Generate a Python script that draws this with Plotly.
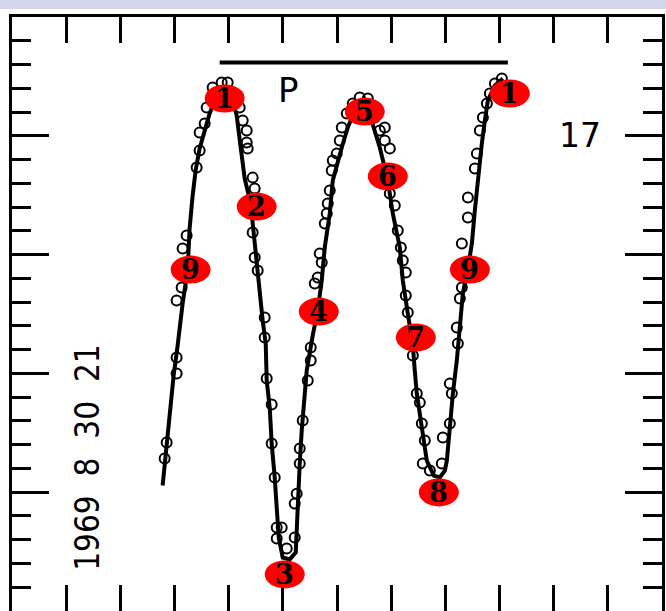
import plotly.graph_objects as go

# ---- data (time in minutes, magnitude) ----
curve_t = [27.81, 28.55, 29.28, 29.84, 30.58, 31.50, 32.42, 32.79, 33.35, 33.90, 34.64, 35.57,
           36.49, 37.78, 39.45, 40.74, 41.48, 42.22, 42.96, 44.06, 44.80, 45.36, 46.28, 46.84,
           47.02, 47.58, 47.94, 48.50, 48.87, 49.24, 49.98, 51.27, 52.38, 52.56, 52.75, 53.12,
           53.49, 54.04, 54.41, 55.52, 56.44, 57.18, 57.74, 58.66, 59.22, 60.88, 61.99, 63.28,
           64.57, 65.68, 66.61, 67.90, 69.38, 70.30, 71.59, 72.15, 73.07, 74.00, 74.36, 74.73,
           75.66, 76.58, 77.88, 78.98, 79.91, 80.28, 80.83, 81.39, 82.12, 82.68, 83.23, 84.16,
           84.90, 85.45, 86.00, 86.74, 87.30, 87.85, 89.15, 90.62]
curve_mag = [18.472, 18.300, 18.156, 18.009, 17.883, 17.706, 17.567, 17.390, 17.251, 17.146,
             17.053, 16.978, 16.906, 16.830, 16.801, 16.851, 16.915, 17.049, 17.180, 17.285,
             17.453, 17.596, 17.777, 17.874, 18.030, 18.144, 18.295, 18.438, 18.590, 18.691,
             18.775, 18.783, 18.754, 18.661, 18.522, 18.379, 18.240, 18.101, 17.988, 17.840,
             17.735, 17.609, 17.470, 17.327, 17.188, 17.049, 16.965, 16.894, 16.860, 16.885,
             16.957, 17.049, 17.188, 17.327, 17.470, 17.609, 17.748, 17.883, 17.988, 18.085,
             18.228, 18.367, 18.430, 18.438, 18.409, 18.367, 18.228, 18.085, 17.946, 17.807,
             17.664, 17.559, 17.453, 17.314, 17.176, 17.032, 16.936, 16.851, 16.788, 16.759]

obs_t = [28.18, 28.55, 30.39, 30.39, 30.39, 31.32, 31.50, 32.24, 34.09, 34.64, 34.64, 35.57,
         35.94, 37.04, 38.71, 39.82, 41.66, 42.03, 42.59, 43.33, 43.33, 43.51, 44.43, 44.80,
         44.43, 44.80, 45.36, 46.65, 46.65, 47.02, 47.94, 47.94, 48.50, 48.87, 48.87, 50.72,
         49.79, 52.19, 52.19, 52.56, 53.12, 53.12, 53.67, 54.60, 55.15, 55.15, 55.89, 56.44,
         56.81, 57.18, 57.74, 58.11, 58.29, 58.66, 59.03, 59.22, 59.95, 60.51, 60.88, 61.80,
         62.91, 64.20, 65.68, 66.97, 67.90, 68.82, 68.82, 69.75, 69.75, 70.67, 71.22, 71.78,
         72.15, 72.70, 72.70, 73.07, 74.00, 74.73, 75.29, 75.66, 76.21, 75.84, 77.14, 79.35,
         79.54, 80.83, 80.83, 81.20, 82.12, 82.31, 82.68, 83.05, 83.05, 84.16, 84.16, 85.45,
         85.82, 86.37, 86.93, 87.67, 88.22, 89.15, 90.44]
obs_mag = [18.358, 18.291, 18.000, 17.933, 17.693, 17.638, 17.474, 17.420, 17.133, 17.062,
           16.986, 16.948, 16.881, 16.797, 16.776, 16.776, 16.830, 16.881, 16.936, 16.978,
           17.028, 17.053, 17.176, 17.222, 17.407, 17.512, 17.567, 17.765, 17.849, 18.021,
           18.131, 18.295, 18.438, 18.649, 18.695, 18.737, 18.649, 18.691, 18.548, 18.506,
           18.379, 18.316, 18.198, 18.030, 17.891, 17.946, 17.622, 17.596, 17.495, 17.533,
           17.369, 17.327, 17.285, 17.230, 17.146, 17.104, 17.075, 17.020, 16.965, 16.906,
           16.864, 16.839, 16.843, 16.923, 16.978, 16.965, 17.020, 17.053, 17.243, 17.293,
           17.399, 17.470, 17.525, 17.575, 17.672, 17.744, 17.925, 18.085, 18.123, 18.211,
           18.282, 18.379, 18.409, 18.379, 18.270, 18.211, 18.043, 18.085, 17.807, 17.874,
           17.685, 17.638, 17.453, 17.344, 17.260, 17.138, 17.075, 16.978, 16.923, 16.864,
           16.822, 16.780, 16.759]

phase_labels = ["9", "1", "2", "3", "4", "5", "6", "7", "8", "9", "1"]
phase_t = [32.98, 39.26, 45.17, 50.35, 56.63, 65.13, 69.38, 74.55, 78.80, 84.53, 91.92]
phase_mag = [17.563, 16.843, 17.298, 18.846, 17.740, 16.898, 17.171, 17.849, 18.501, 17.563, 16.822]

period_t = [38.34, 91.55]
period_mag = [16.691, 16.691]
period_label = "P"
period_label_pos = (51.09, 16.807)

mag_label = "17"
mag_label_pos = (104.9, 17.0)
date_label = "1969  8  30  21"
date_label_pos = (13.9, 18.354)

fig = go.Figure()

fig.add_trace(go.Scatter(x=obs_t, y=obs_mag, mode="markers",
                         marker=dict(symbol="circle-open", size=10, color="black",
                                     line=dict(width=2, color="black")),
                         hoverinfo="skip", showlegend=False))
fig.add_trace(go.Scatter(x=curve_t, y=curve_mag, mode="lines",
                         line=dict(color="black", width=4),
                         hoverinfo="skip", showlegend=False))
fig.add_trace(go.Scatter(x=period_t, y=period_mag, mode="lines",
                         line=dict(color="black", width=4),
                         hoverinfo="skip", showlegend=False))

shapes = []
for t, m in zip(phase_t, phase_mag):
    shapes.append(dict(type="circle", xref="x", yref="y",
                       xsizemode="pixel", ysizemode="pixel",
                       xanchor=t, yanchor=m, x0=-20, x1=20, y0=-14, y1=14,
                       fillcolor="#ff0000", line=dict(width=0), layer="above"))
# light band along the very top of the picture
shapes.append(dict(type="rect", xref="paper", yref="paper",
                   x0=-0.03, x1=1.03, y0=1.0135, y1=1.03,
                   fillcolor="#d3d5ec", line=dict(width=0), layer="above"))

annotations = []
for lab, t, m in zip(phase_labels, phase_t, phase_mag):
    annotations.append(dict(x=t, y=m, xref="x", yref="y", text="<b>" + lab + "</b>",
                            showarrow=False,
                            font=dict(family="DejaVu Serif", size=27, color="black")))
annotations.append(dict(x=period_label_pos[0], y=period_label_pos[1], xref="x", yref="y",
                        text=period_label, showarrow=False,
                        font=dict(family="DejaVu Sans", size=34, color="black")))
annotations.append(dict(x=mag_label_pos[0], y=mag_label_pos[1], xref="x", yref="y",
                        text=mag_label, showarrow=False,
                        font=dict(family="DejaVu Sans", size=33, color="black")))
annotations.append(dict(x=date_label_pos[0], y=date_label_pos[1], xref="x", yref="y",
                        text=date_label, showarrow=False, textangle=-90,
                        font=dict(family="DejaVu Sans Condensed, DejaVu Sans",
                                  size=33, color="black")))

fig.update_layout(
    width=666, height=611,
    margin=dict(l=12, r=4, t=17, b=0),
    paper_bgcolor="white", plot_bgcolor="white",
    shapes=shapes, annotations=annotations,
    showlegend=False,
)
fig.update_xaxes(range=[0, 120], tickmode="linear", tick0=0, dtick=10,
                 ticks="inside", ticklen=26, tickwidth=3, tickcolor="black",
                 showticklabels=False, showline=True, linewidth=3, linecolor="black",
                 mirror="allticks", showgrid=False, zeroline=False)
fig.update_yaxes(range=[19.0, 16.5], tickmode="linear", tick0=16.5, dtick=0.5,
                 ticks="inside", ticklen=37, tickwidth=3, tickcolor="black",
                 minor=dict(dtick=0.1, tick0=16.5, ticks="inside", ticklen=19,
                            tickwidth=3, tickcolor="black", showgrid=False),
                 showticklabels=False, showline=True, linewidth=3, linecolor="black",
                 mirror="allticks", showgrid=False, zeroline=False)

fig.write_html("out.html", config={"displayModeBar": False},
               post_script="document.body.style.margin='0px';document.body.style.overflow='hidden';")
